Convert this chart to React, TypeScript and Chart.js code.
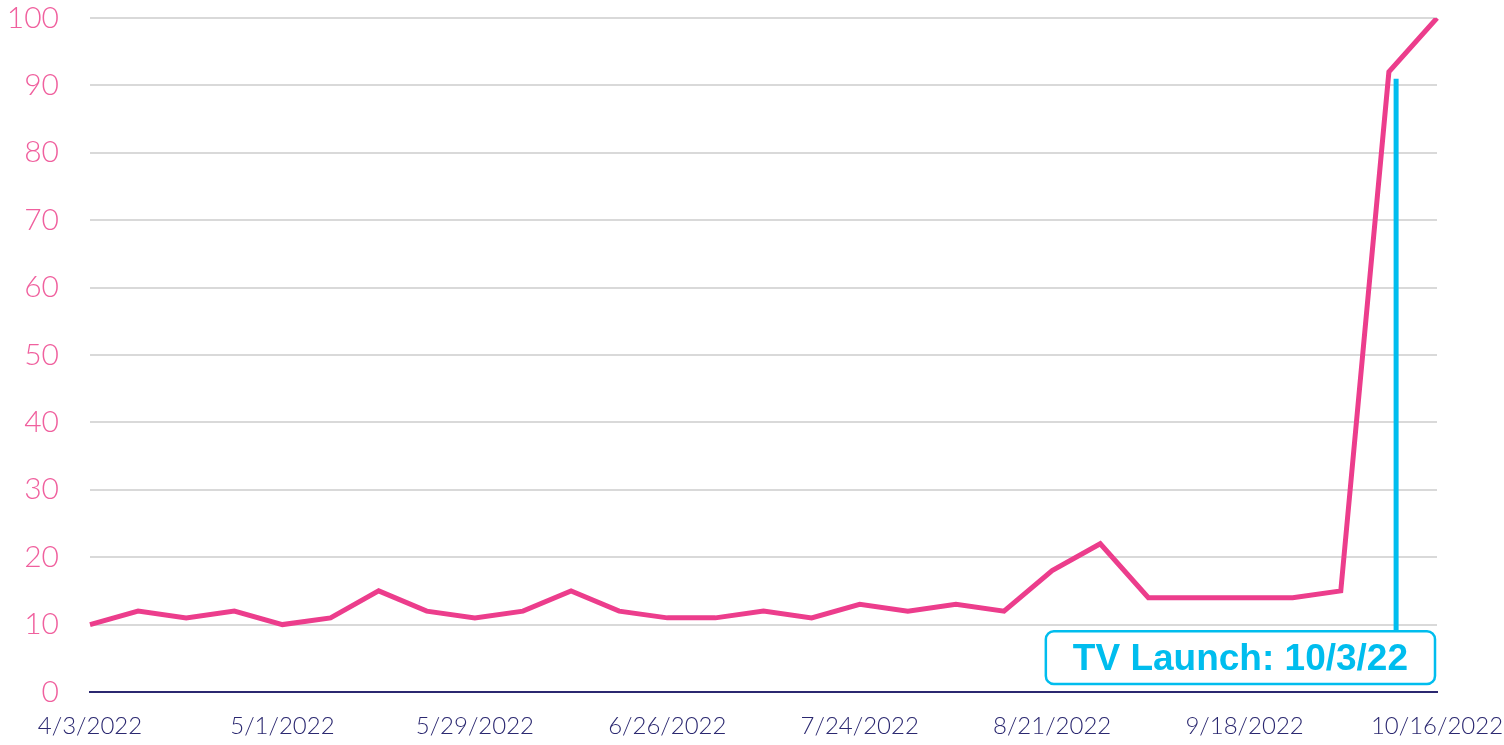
import React, { useEffect, useRef } from "react";
import { Chart, registerables } from "chart.js";

Chart.register(...registerables);

const weeks: string[] = [
  "4/3/2022", "4/10/2022", "4/17/2022", "4/24/2022", "5/1/2022", "5/8/2022", "5/15/2022",
  "5/22/2022", "5/29/2022", "6/5/2022", "6/12/2022", "6/19/2022", "6/26/2022", "7/3/2022",
  "7/10/2022", "7/17/2022", "7/24/2022", "7/31/2022", "8/7/2022", "8/14/2022", "8/21/2022",
  "8/28/2022", "9/4/2022", "9/11/2022", "9/18/2022", "9/25/2022", "10/2/2022", "10/9/2022",
  "10/16/2022",
];
const interest: number[] = [
  10, 12, 11, 12, 10, 11, 15, 12, 11, 12, 15, 12, 11, 11, 12, 11, 13, 12, 13, 12, 18, 22,
  14, 14, 14, 14, 15, 92, 100,
];
const yTicks: number[] = [0, 10, 20, 30, 40, 50, 60, 70, 80, 90, 100];
const annotationText = "TV Launch: 10/3/22";
const launchIndex = 27.15;
const launchTop = 91;
const boxTopValue = 9;
const boxBottomValue = 1.2;

const PINK = "#EC3D8C";
const PINK_LABEL = "#F0609E";
const NAVY = "#2B2870";
const CYAN = "#00BDEE";

const launchPlugin = {
  id: "launch",
  afterDatasetsDraw(chart: any) {
    const { ctx, scales, chartArea } = chart;
    const x = scales.x.getPixelForValue(launchIndex);
    const yTop = scales.y.getPixelForValue(launchTop);
    const bTop = scales.y.getPixelForValue(boxTopValue);
    const bBot = scales.y.getPixelForValue(boxBottomValue);
    ctx.save();
    ctx.strokeStyle = CYAN;
    ctx.lineWidth = 5;
    ctx.beginPath();
    ctx.moveTo(x, yTop);
    ctx.lineTo(x, bTop);
    ctx.stroke();
    ctx.font = "bold 37px 'Liberation Sans', Arial, sans-serif";
    const tw = ctx.measureText(annotationText).width;
    const right = chartArea.right - 2;
    const left = right - tw - 54;
    ctx.lineWidth = 2.5;
    ctx.fillStyle = "#ffffff";
    ctx.beginPath();
    ctx.roundRect(left, bTop, right - left, bBot - bTop, 8);
    ctx.fill();
    ctx.stroke();
    ctx.fillStyle = CYAN;
    ctx.textAlign = "center";
    ctx.textBaseline = "middle";
    ctx.fillText(annotationText, (left + right) / 2, (bTop + bBot) / 2 + 2);
    ctx.restore();
  },
};

export default function App() {
  const ref = useRef<HTMLCanvasElement | null>(null);
  useEffect(() => {
    if (!ref.current) return;
    const chart = new Chart(ref.current, {
      type: "line",
      data: {
        labels: weeks,
        datasets: [
          {
            data: interest,
            borderColor: PINK,
            borderWidth: 5,
            pointRadius: 0,
            tension: 0,
            fill: false,
          },
        ],
      },
      options: {
        animation: false,
        responsive: false,
        maintainAspectRatio: false,
        layout: { padding: { top: 18, right: 67, left: 0, bottom: 0 } },
        plugins: { legend: { display: false }, tooltip: { enabled: false } },
        scales: {
          x: {
            offset: false,
            grid: { display: false, drawTicks: false },
            border: { display: true, color: NAVY, width: 2 },
            ticks: {
              autoSkip: false,
              maxRotation: 0,
              padding: 20,
              color: NAVY,
              font: { family: "Lato", size: 24, weight: 300 },
              callback: (_v: any, i: number) => (i % 4 === 0 ? weeks[i] : ""),
            },
            afterFit: (s: any) => {
              s.height = 53;
              s.paddingLeft = 0;
              s.paddingRight = 0;
            },
          },
          y: {
            min: 0,
            max: 100,
            afterBuildTicks: (s: any) => {
              s.ticks = yTicks.map((v) => ({ value: v }));
            },
            grid: {
              drawTicks: false,
              lineWidth: 2,
              color: (c: any) => (c.tick && c.tick.value === 0 ? "rgba(0,0,0,0)" : "#D9D9D9"),
            },
            border: { display: false },
            ticks: {
              padding: 31,
              color: PINK_LABEL,
              font: { family: "Lato", size: 30, weight: 300 },
            },
            afterFit: (s: any) => {
              s.width = 90;
              s.paddingTop = 0;
              s.paddingBottom = 0;
            },
          },
        },
      },
      plugins: [launchPlugin],
    });
    return () => chart.destroy();
  }, []);
  return (
    <div style={{ position: "absolute", left: 0, top: 0, width: 1504, height: 745, background: "#fff" }}>
      <canvas ref={ref} width={1504} height={745} style={{ width: 1504, height: 745 }} />
    </div>
  );
}
